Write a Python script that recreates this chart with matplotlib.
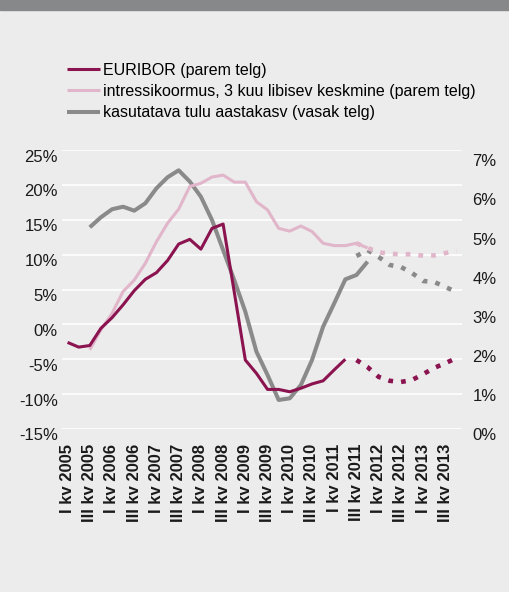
import numpy as np
import matplotlib.pyplot as plt
import matplotlib.transforms as mtransforms

plt.rcParams['font.family'] = ['Liberation Sans', 'DejaVu Sans']
plt.rcParams['lines.scale_dashes'] = False

nan = np.nan

# quarters 2005 Q1 .. 2013 Q4, labels every second quarter
quarters = [f"{q} kv {y}" for y in range(2005, 2014) for q in ("I", "II", "III", "IV")]

# EURIBOR, % (right axis)
euribor = [2.21, 2.09, 2.13, 2.57, 2.84, 3.17, 3.53, 3.82, 3.99, 4.30,
           4.72, 4.84, 4.59, 5.12, 5.23, 3.50, 1.76, 1.42, 1.01, 1.01,
           0.95, 1.04, 1.15, 1.23, 1.51, 1.78] + [nan] * 10
euribor_fc = [nan] * 26 + [1.76, 1.58, 1.33, 1.23, 1.20, 1.25, 1.40, 1.56, 1.68, 1.81]

# interest burden, 3-month moving average, % (right axis)
burden = [nan, nan, 2.02, 2.53, 2.95, 3.51, 3.80, 4.23, 4.78, 5.25,
          5.61, 6.19, 6.27, 6.43, 6.48, 6.30, 6.30, 5.80, 5.59, 5.12,
          5.05, 5.18, 5.04, 4.74, 4.68, 4.68, 4.74, 4.62] + [nan] * 8
burden_fc = [nan] * 26 + [4.74, 4.62, 4.51, 4.47, 4.46, 4.46, 4.42, 4.43, 4.49, 4.54]

# disposable income, annual growth % (left axis)
income = [nan, nan, 13.92, 15.35, 16.50, 16.87, 16.30, 17.36, 19.51, 21.09,
          22.09, 20.48, 18.30, 14.96, 10.66, 6.36, 1.82, -3.92, -7.26, -10.84,
          -10.60, -8.69, -5.11, -0.33, 3.02, 6.46, 7.08, 8.99] + [nan] * 8
income_fc = [nan] * 26 + [9.80, 10.66, 9.66, 8.51, 8.23, 7.37, 6.22, 6.08, 5.36, 4.64]

bg = '#ebeceb'
c_eur = '#8a1350'
c_bur = '#e2b6ca'
c_inc = '#8a8a8a'
dots = (0, (3.4, 5.8))
fs = 12

fig = plt.figure(figsize=(5.09, 5.92), dpi=100, facecolor=bg)
fig.patches.append(plt.Rectangle((0, 1 - 9.5 / 592), 1, 9.5 / 592, transform=fig.transFigure,
                                 color='#87888a', zorder=0))

ax = fig.add_axes([62 / 509, 1 - 429 / 592, 400 / 509, 279 / 592])
ax.set_facecolor(bg)
ax2 = ax.twinx()

x = np.arange(len(quarters))

h3, = ax.plot(x, income, color=c_inc, lw=2.9, solid_capstyle='butt',
              label='kasutatava tulu aastakasv (vasak telg)')
ax.plot(x, income_fc, color=c_inc, lw=3.3, linestyle=dots)

h2, = ax2.plot(x, burden, color=c_bur, lw=2.2, solid_capstyle='butt',
               label='intressikoormus, 3 kuu libisev keskmine (parem telg)')
ax2.plot(x, burden_fc, color=c_bur, lw=3.3, linestyle=dots)
h1, = ax2.plot(x, euribor, color=c_eur, lw=2.2, solid_capstyle='butt',
               label='EURIBOR (parem telg)')
ax2.plot(x, euribor_fc, color=c_eur, lw=3.3, linestyle=dots)

ax.set_xlim(-0.5, len(quarters) - 0.5)
ax.set_ylim(-15, 25)
ax2.set_ylim(0, 7.12)

ax.set_yticks(range(-15, 30, 5))
ax.set_yticklabels([f"{v}%" for v in range(-15, 30, 5)])
ax2.set_yticks(range(0, 8))
ax2.set_yticklabels([f"{v}%" for v in range(0, 8)])

ax.set_xticks(x[::2])
ax.set_xticklabels(quarters[::2], rotation=90, fontweight='bold')

ax.grid(axis='y', color='white', lw=1.2)
ax.set_axisbelow(True)

for a in (ax, ax2):
    for s in a.spines.values():
        s.set_visible(False)
    a.tick_params(length=0, labelsize=fs, colors='#1a1a1a')
ax.tick_params(axis='y', pad=3)
ax.tick_params(axis='x', pad=10.5)
ax2.tick_params(axis='y', pad=7.5)

# y labels sit a bit below their gridlines in the original
shift = mtransforms.ScaledTranslation(0, -5.5 / 100, fig.dpi_scale_trans)
for lab in ax.get_yticklabels() + ax2.get_yticklabels():
    lab.set_transform(lab.get_transform() + shift)

fig.legend(handles=[h1, h2, h3], loc='upper left', bbox_to_anchor=(67 / 509, 1 - 63 / 592),
           frameon=False, fontsize=11.5, handlelength=2.05, handletextpad=0.2,
           labelspacing=0.38, borderpad=0, borderaxespad=0)

fig.savefig('out.png', dpi=100, facecolor=bg)
